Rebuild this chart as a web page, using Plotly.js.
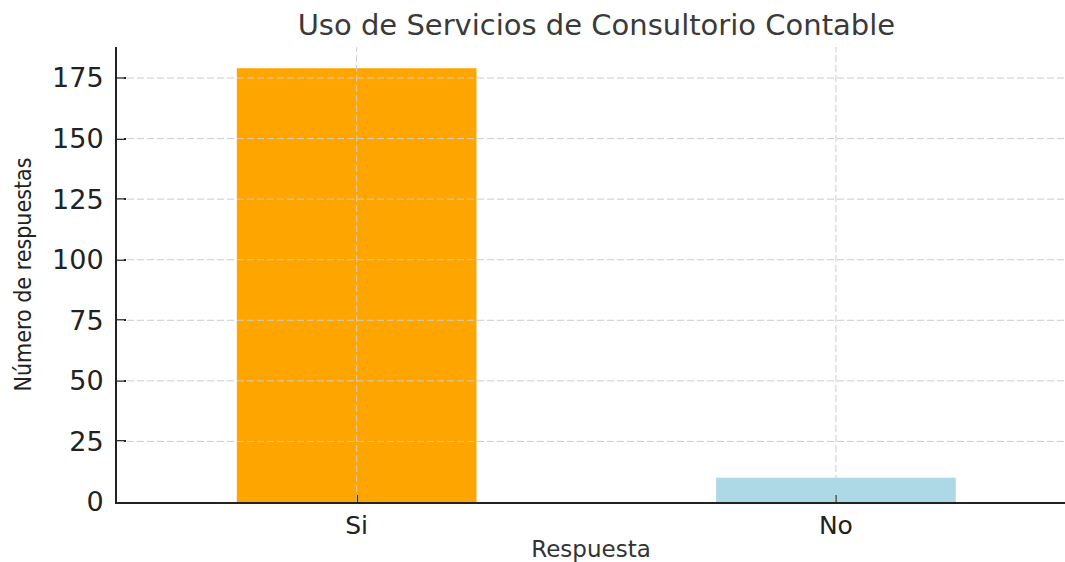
<!DOCTYPE html>
<html>
<head>
<meta charset="utf-8">
<script src="https://cdn.plot.ly/plotly-3.0.1.min.js"></script>
<style>html,body{margin:0;padding:0;background:#fff;}#chart{width:1065px;height:562px;}</style>
</head>
<body>
<div id="chart"></div>
<script>
const categories = ["Si", "No"];
const counts = [179, 10];
const barColors = ["#FFA500", "#ADD8E6"];
const yTicks = [0, 25, 50, 75, 100, 125, 150, 175];

const gridStyle = { color: "#cccccc", width: 1, dash: "7px,3px" };

// grid drawn above the bars (as in the reference), built from the tick / category arrays
const gridShapes = [];
yTicks.filter(v => v > 0).forEach(v => {
  gridShapes.push({ type: "line", layer: "above", xref: "paper", yref: "y", x0: 0, x1: 1, y0: v, y1: v, line: gridStyle });
});
categories.forEach(c => {
  gridShapes.push({ type: "line", layer: "above", xref: "x", yref: "paper", x0: c, x1: c, y0: 0, y1: 1, line: gridStyle });
});

const trace = {
  type: "bar",
  x: categories,
  y: counts,
  width: 0.5,
  marker: { color: barColors, line: { width: 0 } },
  hoverinfo: "x+y"
};

const layout = {
  width: 1065,
  height: 562,
  margin: { l: 117, r: 0, t: 47, b: 60 },
  paper_bgcolor: "#ffffff",
  plot_bgcolor: "#ffffff",
  showlegend: false,
  shapes: gridShapes,
  title: {
    text: "Uso de Servicios de Consultorio Contable",
    font: { family: "DejaVu Sans", size: 29, color: "#3a3a3a" },
    x: 0.56, xanchor: "center",
    y: 0.955, yanchor: "middle"
  },
  xaxis: {
    type: "category",
    range: [-0.5, 1.478],
    showline: true,
    linecolor: "#222222",
    linewidth: 2,
    ticks: "inside",
    ticklen: 7,
    tickwidth: 2,
    tickcolor: "#222222",
    showgrid: false,
    tickfont: { family: "DejaVu Sans", size: 25, color: "#222222" },
    title: { text: "Respuesta", font: { family: "DejaVu Sans", size: 23, color: "#333333" }, standoff: 6 },
    layer: "above traces",
    zeroline: false,
    automargin: false
  },
  yaxis: {
    range: [0, 187.8],
    tickvals: yTicks,
    ticktext: yTicks.map(String),
    showline: true,
    linecolor: "#222222",
    linewidth: 2,
    ticks: "inside",
    ticklen: 9,
    tickwidth: 2,
    tickcolor: "#222222",
    showgrid: false,
    ticklabelstandoff: 6,
    tickfont: { family: "DejaVu Sans", size: 27, color: "#222222" },
    title: { text: "Número de respuestas", font: { family: "DejaVu Sans Condensed", size: 23, color: "#222222" }, standoff: 14 },
    layer: "above traces",
    zeroline: false,
    automargin: false
  }
};

Plotly.newPlot("chart", [trace], layout, { displayModeBar: false, responsive: false });
</script>
</body>
</html>
